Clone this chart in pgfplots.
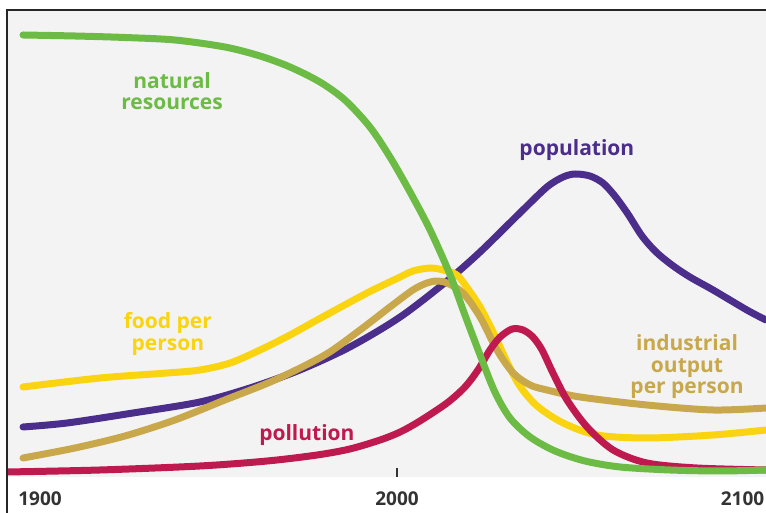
\documentclass[border=0pt]{standalone}
\usepackage{fontspec}
\setmainfont{Open Sans}
\usepackage{pgfplots}
\pgfplotsset{compat=1.18}
\definecolor{bggray}{HTML}{F3F3F3}
\definecolor{cgreen}{HTML}{6CBB45}
\definecolor{cpurple}{HTML}{4B2D8C}
\definecolor{cyellow}{HTML}{FAD410}
\definecolor{cgold}{HTML}{C9A84C}
\definecolor{ccrimson}{HTML}{BF1A4F}
\definecolor{ctext}{HTML}{333333}
\begin{document}
\begin{tikzpicture}[x=1pt,y=1pt]
\useasboundingbox (0,0) rectangle (766,513);
\begin{axis}[
  at={(7pt,36pt)}, anchor=south west,
  scale only axis, width=759pt, height=467pt,
  xmin=1889.2, xmax=2104.83, ymin=0, ymax=467,
  axis background/.style={fill=bggray},
  axis line style={draw=none},
  ytick=\empty,
  xtick={1900,2000,2100},
  xticklabels={{1900\hspace*{10pt}},2000,{2100\hspace*{13pt}}},
  xtick pos=lower,
  major tick length=0pt,
  xticklabel style={font=\fontsize{19}{19}\selectfont\bfseries, text=ctext, anchor=north, inner sep=0pt, yshift=-15pt},
  /pgf/number format/assume math mode=true,
  extra x ticks={2000},
  extra x tick labels={},
  extra x tick style={major tick length=9pt, tick align=inside, tick style={line width=1.5pt, color=ctext}},
  every axis plot/.append style={line width=7pt, line cap=round, line join=round, smooth, no markers},
  clip=true,
]
% population
\addplot[cpurple] coordinates {
(1893.75,50) (1906.25,54) (1925.0,64) (1944.0,75) (1958.2,89) (1972.4,107) (1986.6,130) (2000.9,160) (2014.2,196) (2023.6,225) (2034.9,264) (2042.6,290) (2047.2,300) (2050.6,303) (2054.8,301) (2058.5,294) (2061.9,281) (2065.6,263) (2069.6,241) (2073.6,225) (2078.1,212) (2083.2,200) (2089.8,187) (2099.4,167) (2104.8,157)
};
% food per person
\addplot[cyellow] coordinates {
(1893.75,90) (1915.6,99) (1934.7,104) (1944.0,107) (1952.6,114) (1961.1,127) (1969.6,142) (1977.3,157) (1991.5,184) (2000.9,200) (2004.5,206) (2009.4,209) (2013.1,207) (2017.0,202) (2020.2,188) (2023.6,170) (2027.3,145) (2031.25,115) (2034.9,91) (2039.8,71) (2047.2,54) (2056.8,42) (2071.0,39) (2089.8,42) (2104.8,47)
};
% industrial output per person
\addplot[cgold] coordinates {
(1893.75,19) (1908.5,29) (1922.7,41) (1936.9,57) (1951.1,77) (1965.3,97) (1979.5,122) (1989.5,147) (1998.0,170) (2004.5,187) (2008.5,194) (2011.4,196) (2014.2,194) (2018.75,184) (2023.6,160) (2028.4,127) (2033.0,104) (2037.8,92) (2042.6,87) (2052.0,80) (2071.0,72) (2089.8,67) (2104.8,69)
};
% pollution
\addplot[ccrimson] coordinates {
(1889.2,5) (1915.6,7) (1944.0,11) (1963.1,16) (1977.3,22) (1986.6,28) (1995.2,37) (2000.9,45) (2006.5,56) (2014.2,74) (2019.3,90) (2023.0,107) (2026.4,127) (2029.3,140) (2032.7,148) (2035.8,147) (2038.6,140) (2041.2,127) (2044.3,104) (2048.3,77) (2054.0,50) (2061.4,27) (2071.0,14) (2085.2,9) (2104.8,7)
};
% natural resources
\addplot[cgreen] coordinates {
(1893.75,442) (1908.5,441) (1922.7,439.5) (1936.9,437) (1951.1,430) (1961.1,421) (1969.6,410) (1978.1,395) (1985.2,377) (1992.3,350) (1998.0,320) (2003.7,285) (2009.4,247) (2015.1,202) (2019.3,162) (2023.6,122) (2027.8,85) (2032.1,59) (2037.8,40) (2044.9,26) (2053.4,16) (2063.4,10) (2077.6,7) (2091.8,6) (2104.8,7)
};
\begin{scope}[every node/.style={font=\fontsize{21}{21.5}\selectfont\bfseries, align=center, inner sep=0pt}]
\node[text=cgreen] at (axis cs:1936.1,386) {natural\\resources};
\node[text=cpurple] at (axis cs:2051.1,327) {population};
\node[text=cyellow] at (axis cs:1934.9,143) {food per\\person};
\node[text=ccrimson] at (axis cs:1974.4,42) {pollution};
\node[text=cgold] at (axis cs:2082.4,110) {industrial\\output\\per person};
\end{scope}
\end{axis}
\draw[line width=2pt, color=black!85] (6.5,0) -- (6.5,503) -- (766,503);
\end{tikzpicture}
\end{document}
